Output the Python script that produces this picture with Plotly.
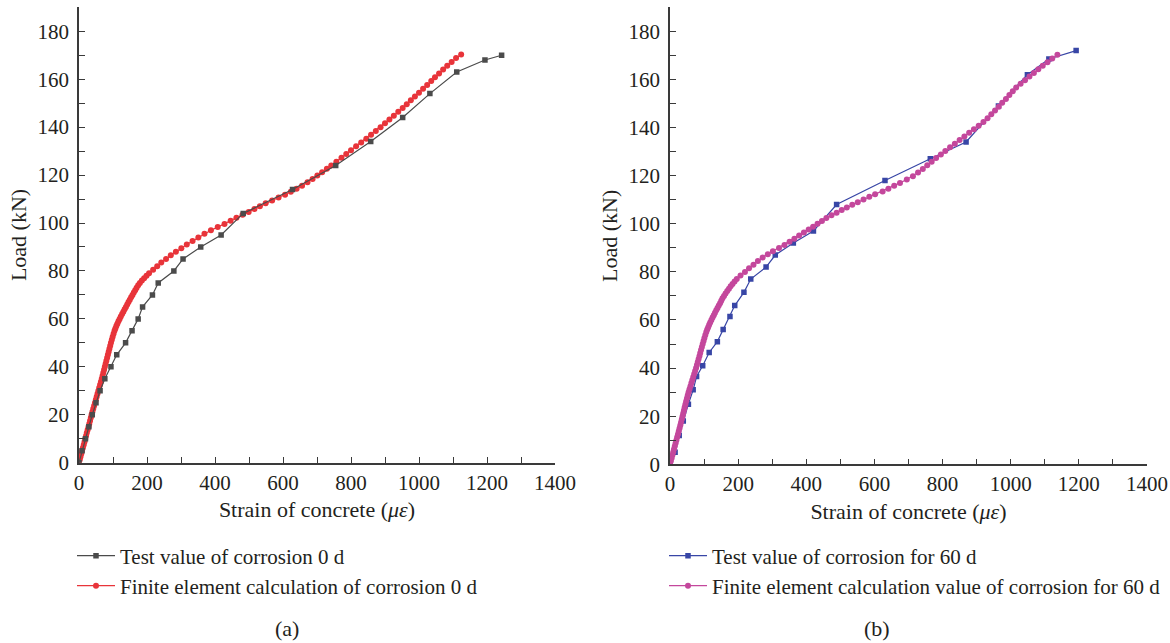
import plotly.graph_objects as go

# ---------------- data ----------------
# (a) corrosion 0 d
test0_strain = [0, 9, 19, 29, 39, 50, 62, 76, 94, 111, 137, 156, 174, 187, 216, 233, 279, 306,
                358, 418, 483, 628, 755, 858, 952, 1032, 1111, 1194, 1243]
test0_load = [0, 5, 10, 15, 20, 25, 30, 35, 40, 45, 50, 55, 60, 65, 70, 75, 80, 85,
              90, 95, 104, 114, 124, 134, 144, 154, 163, 168, 170]

fe0_load = [0, 1.25, 2.5, 3.75, 5, 6.25, 7.5, 8.75, 10, 11.25, 12.5, 13.75, 15, 16.25, 17.5, 18.75,
            20, 21.25, 22.5, 23.75, 25, 26.25, 27.5, 28.75, 30, 31.25, 32.5, 33.75, 35, 36.25,
            37.5, 38.75, 40, 41.25, 42.5, 43.75, 45, 46.25, 47.5, 48.75, 50, 51.25, 52.5, 53.75,
            55, 56, 57, 58, 59, 60, 61, 62, 63, 64, 65, 66, 67, 68, 69, 70, 71, 72, 73, 74, 75,
            76, 77, 78, 79, 80.5, 82, 83.5,
            85, 86.5, 88, 89.5, 91, 92.5, 94, 95.5, 97, 98.3, 99.6, 100.9, 102.2, 103.4, 104.6,
            105.8, 107, 108.2, 109.4, 110.6, 111.8, 113, 114.3, 115.6, 117, 118.4, 119.8, 121.2,
            122.6, 124, 125.6, 127.2, 128.8, 130.4, 132, 133.6, 135.2, 136.8, 138.4, 140, 141.6,
            143.2, 144.8, 146.4, 148, 149.6, 151.2, 152.8, 154.4, 156, 157.6, 159.2, 160.8, 162.4,
            164, 165.6, 167.2, 168.8, 170.3]
fe0_strain = [0, 2.3, 4.5, 6.8, 9, 11.5, 14, 16.3, 18.5, 20.8, 23, 25.5, 28, 30.3, 32.5, 34.8,
              37, 39.5, 42, 44.5, 47, 49.5, 52, 54.5, 57, 59.5, 62, 64.5, 67, 69.3,
              71.5, 73.8, 76, 78.3, 80.5, 82.8, 85, 87.3, 89.5, 91.8, 94, 96.5, 99, 101.7,
              104.5, 107, 109.8, 112.8, 116, 119.5, 123, 126.8, 130.5, 134.2, 138, 141.8, 145.6, 149.4,
              153.3, 157.3, 161.3, 165.3, 169.5, 174, 179,
              185, 191.5, 198.5, 206, 218, 230, 242,
              256, 270, 285, 301, 317, 334, 351, 369, 388, 408, 428, 446, 463, 481, 499,
              516, 532, 549, 568, 587, 606, 623, 640, 656, 672, 687, 701, 715,
              729, 742, 757, 772, 786, 800, 815, 830, 845, 859, 873, 887, 900,
              913, 926, 939, 952, 964, 976, 988, 1000, 1012, 1024, 1036, 1047, 1059,
              1071, 1083, 1096, 1109, 1124]

# (b) corrosion 60 d
test60_strain = [0, 15, 27, 39, 54, 68, 78, 96, 115, 139, 156, 176, 190, 217, 237, 282, 309, 362,
                 421, 489, 631, 764, 869, 964, 1049, 1112, 1192]
test60_load = [0, 5, 12, 18, 25, 31, 36.5, 41, 46.5, 51, 56, 61.5, 66, 71.5, 77, 82, 87, 92,
               97, 108, 118, 127, 134, 149, 162, 168.5, 172]

fe60_load = [0, 1.25, 2.5, 3.75, 5, 6.25, 7.5, 8.75, 10, 11.25, 12.5, 13.75, 15, 16.25, 17.5, 18.75,
             20, 21.25, 22.5, 23.75, 25, 26.25, 27.5, 28.75, 30, 31.25, 32.5, 33.75, 35, 36.25,
             37.5, 38.75, 40, 41.25, 42.5, 43.75, 45, 46.25, 47.5, 48.75, 50, 51.25, 52.5, 53.75,
             55, 56, 57, 58, 59, 60, 61, 62, 63, 64, 65, 66, 67, 68, 69, 70, 71, 72, 73, 74, 75,
             76, 77, 78.5, 80, 81.5, 83,
             84.5, 86, 87.3, 88.6, 89.9, 91.2, 92.5, 93.8, 95.1, 96.4, 97.6, 98.8, 100, 101.2,
             102.4, 103.5, 104.6, 105.7, 106.8, 107.9, 109, 110.1, 111.2, 112.3, 113.4, 114.6,
             115.8, 117, 118.4, 119.8, 121.3, 122.8, 124.3, 125.8, 127.3, 128.8, 130.3, 131.8,
             133.3, 134.8, 136.3, 137.8, 139.3, 140.8, 142.3, 143.9, 145.5, 147.1, 148.7, 150.3,
             151.9, 153.5, 155.1, 156.7, 158.2, 159.7, 161.2, 162.7, 164.2, 165.7, 167.2, 168.7,
             170.3]
fe60_strain = [0, 2.3, 4.7, 7, 9.4, 11.7, 14, 16.4, 18.7, 21, 23.4, 25.7, 28, 30.3, 32.5, 34.7,
               36.8, 38.9, 41, 43.1, 45.3, 47.5, 49.8, 52.1, 54.5, 57.2, 60, 62.7, 65.5, 68.2,
               71, 73.7, 76.5, 79, 81.5, 84, 86.5, 88.7, 91, 93.5, 96, 98.5, 101, 103.7,
               106.5, 109.2, 112, 115, 118, 121.5, 125, 128.5, 132, 135.7, 139.5, 143.2, 147, 150.5,
               154, 158.5, 163, 168, 173, 178, 183.5,
               189.5, 196, 207, 220, 232, 245,
               258, 272, 287, 302, 320, 336, 351, 365, 379, 393, 407, 420, 433, 446,
               459, 474, 489, 504, 519, 535, 551, 568, 585, 602, 624, 641,
               658, 675, 695, 713, 728, 742, 755, 768, 781, 795, 808, 822,
               836, 850, 864, 878, 892, 906, 920, 932, 943, 954, 965, 975,
               986, 996, 1006, 1016, 1029, 1042, 1055, 1068, 1081, 1094, 1108, 1122,
               1137]

x_ticks = [0, 200, 400, 600, 800, 1000, 1200, 1400]
y_ticks = [0, 20, 40, 60, 80, 100, 120, 140, 160, 180]

names = ["Test value of corrosion 0 d",
         "Finite element calculation of corrosion 0 d",
         "Test value of corrosion for 60 d",
         "Finite element calculation value of corrosion for 60 d"]
captions = ["(a)", "(b)"]

# ---------------- styling ----------------
FONT = "Liberation Serif"
TXT = "#231f20"
AX = "#3a3a3a"
C_TEST0 = "#4b4b4b"
C_FE0 = "#e8343a"
C_TEST60 = "#3846a6"
C_FE60 = "#c4479c"
FS = 22
FS_TICK = 21
FS_LEG = 21

fig = go.Figure()

fig.add_trace(go.Scatter(x=fe0_strain, y=fe0_load, mode="lines+markers", name=names[1],
                         line=dict(color=C_FE0, width=1.2),
                         marker=dict(symbol="circle", size=6, color=C_FE0),
                         xaxis="x", yaxis="y", legend="legend2"))
fig.add_trace(go.Scatter(x=test0_strain, y=test0_load, mode="lines+markers", name=names[0],
                         line=dict(color=C_TEST0, width=1.2),
                         marker=dict(symbol="square", size=5.5, color=C_TEST0),
                         xaxis="x", yaxis="y", legend="legend"))

fig.add_trace(go.Scatter(x=test60_strain, y=test60_load, mode="lines+markers", name=names[2],
                         line=dict(color=C_TEST60, width=1.2),
                         marker=dict(symbol="square", size=5.5, color=C_TEST60),
                         xaxis="x2", yaxis="y2", legend="legend3"))
fig.add_trace(go.Scatter(x=fe60_strain, y=fe60_load, mode="lines+markers", name=names[3],
                         line=dict(color=C_FE60, width=1.2),
                         marker=dict(symbol="circle", size=6, color=C_FE60),
                         xaxis="x2", yaxis="y2", legend="legend4"))

W, H = 1170, 643


def px_x(p):
    return p / W


def px_y(p):
    return 1 - p / H


common_x = dict(range=[0, 1400], tickvals=x_ticks, ticks="inside", ticklen=6, tickwidth=1.2,
                tickcolor=AX, showline=True, linecolor=AX, linewidth=1.5, showgrid=False,
                zeroline=False, automargin=False,
                minor=dict(ticks="inside", dtick=100, ticklen=6, tickwidth=1.2,
                           tickcolor=AX, showgrid=False),
                tickfont=dict(family=FONT, size=FS_TICK, color=TXT),
                title=dict(text="Strain of concrete (<i>με</i>)",
                           font=dict(family=FONT, size=FS, color=TXT), standoff=8))
common_y = dict(range=[0, 190], tickvals=y_ticks, ticks="inside", ticklen=6, tickwidth=1.2,
                tickcolor=AX, showline=True, linecolor=AX, linewidth=1.5, showgrid=False,
                zeroline=False, automargin=False,
                minor=dict(ticks="inside", dtick=10, ticklen=6, tickwidth=1.2,
                           tickcolor=AX, showgrid=False),
                tickfont=dict(family=FONT, size=FS_TICK, color=TXT), ticklabelstandoff=4,
                title=dict(text="Load (kN)", font=dict(family=FONT, size=FS, color=TXT), standoff=5))

legend_common = dict(font=dict(family=FONT, size=FS_LEG, color=TXT), bgcolor="rgba(0,0,0,0)",
                     xanchor="left", yanchor="middle", itemwidth=38)

fig.update_layout(
    width=W, height=H,
    margin=dict(l=0, r=0, t=0, b=0),
    paper_bgcolor="white", plot_bgcolor="white",
    font=dict(family=FONT, size=FS, color=TXT),
    xaxis=dict(domain=[px_x(79), px_x(555)], anchor="y", **common_x),
    yaxis=dict(domain=[px_y(462.7), px_y(7.3)], anchor="x", **common_y),
    xaxis2=dict(domain=[px_x(670), px_x(1147)], anchor="y2", **common_x),
    yaxis2=dict(domain=[px_y(464.3), px_y(7.3)], anchor="x2", **common_y),
    legend=dict(x=px_x(72), y=px_y(556), **legend_common),
    legend2=dict(x=px_x(72), y=px_y(586), **legend_common),
    legend3=dict(x=px_x(664), y=px_y(556), **legend_common),
    legend4=dict(x=px_x(664), y=px_y(586), **legend_common),
    showlegend=True,
    annotations=[
        dict(text=captions[0], x=px_x(287), y=px_y(628), xref="paper", yref="paper",
             xanchor="center", yanchor="middle",
             showarrow=False, font=dict(family=FONT, size=FS, color=TXT)),
        dict(text=captions[1], x=px_x(877), y=px_y(628), xref="paper", yref="paper",
             xanchor="center", yanchor="middle",
             showarrow=False, font=dict(family=FONT, size=FS, color=TXT)),
    ],
)

fig.write_html(
    "out.html",
    config={"displayModeBar": False},
    post_script="document.body.style.margin='0px';document.body.style.padding='0px';"
                "document.documentElement.style.overflow='hidden';",
)
